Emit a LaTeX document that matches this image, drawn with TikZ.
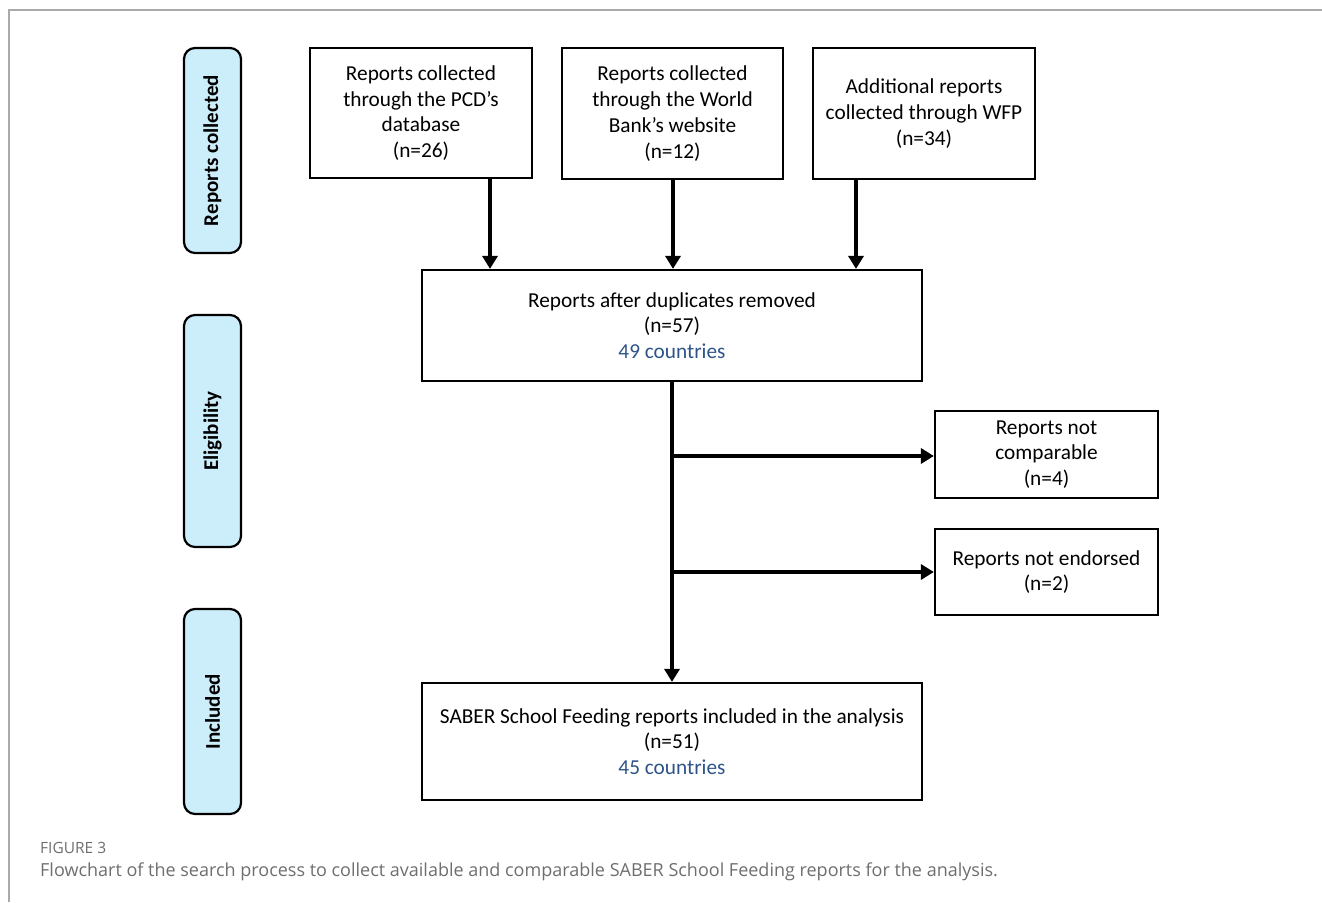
\documentclass[tikz,border=0pt]{standalone}
\usepackage{fontspec}
\setmainfont{Carlito}
\newfontfamily\capfont{Open Sans}
\usetikzlibrary{arrows.meta}
\definecolor{sideblue}{RGB}{204,238,251}
\definecolor{cntblue}{RGB}{46,84,138}
\definecolor{framegrey}{RGB}{170,170,170}
\definecolor{capgrey}{RGB}{110,110,110}
\begin{document}
\begin{tikzpicture}[x=1pt,y=-1pt,
  box/.style={draw=black,line width=2.2pt,align=center,inner sep=0pt,font=\fontsize{21.3}{25.8}\selectfont},
  side/.style={draw=black,line width=2.2pt,fill=sideblue,rounded corners=11pt,inner sep=0pt,minimum width=57pt},
  sidetxt/.style={rotate=90,font=\fontsize{21}{25}\selectfont\bfseries},
  arr/.style={line width=4.8pt,-{Triangle[width=15pt,length=13pt]}}]
\useasboundingbox (0,0) rectangle (1322,902);
% frame
\draw[framegrey,line width=2pt] (9,902) -- (9,10) -- (1322,10);
% side labels
\node[side,minimum height=205pt] (sc) at (212.5,150.5) {};
\node[sidetxt] (sct) at (sc.center) {Reports collected};
\node[side,minimum height=232pt] (se) at (212.5,431) {};
\node[sidetxt] (set) at (se.center) {Eligibility};
\node[side,minimum height=205pt] (si) at (212.5,711.5) {};
\node[sidetxt] (sit) at (si.center) {Included};
% top boxes
\node[box,minimum width=222pt,minimum height=130pt] (b1) at (421,113) {Reports collected\\through the PCD’s\\database\\(n=26)};
\node[box,minimum width=221pt,minimum height=131pt] (b2) at (672.5,113.5) {Reports collected\\through the World\\Bank’s website\\(n=12)};
\node[box,minimum width=222pt,minimum height=131pt] (b3) at (924,113.5) {Additional reports\\collected through WFP\\(n=34)};
% middle box
\node[box,minimum width=500pt,minimum height=111pt] (mid) at (672,325.5) {Reports after duplicates removed\\(n=57)\\\textcolor{cntblue}{49 countries}};
% right boxes
\node[box,minimum width=223pt,minimum height=87pt] (nc) at (1046.5,454.5) {Reports not\\comparable\\(n=4)};
\node[box,minimum width=223pt,minimum height=86pt] (ne) at (1046.5,572) {Reports not endorsed\\(n=2)};
% bottom box
\node[box,minimum width=500pt,minimum height=117pt] (fin) at (672,741.5) {SABER School Feeding reports included in the analysis\\(n=51)\\\textcolor{cntblue}{45 countries}};
% arrows
\coordinate (x1) at (490,0);
\coordinate (x2) at (673,0);
\coordinate (x3) at (856,0);
\coordinate (xt) at (672,0);
\draw[arr] (b1.south -| x1) -- (x1 |- mid.north);
\draw[arr] (b2.south -| x2) -- (x2 |- mid.north);
\draw[arr] (b3.south -| x3) -- (x3 |- mid.north);
\draw[arr] (mid.south -| xt) -- (xt |- fin.north);
\coordinate (j1) at (672,456);
\coordinate (j2) at (672,572);
\draw[arr] (j1) -- (j1 -| nc.west);
\draw[arr] (j2) -- (j2 -| ne.west);
% caption
\node[anchor=base west,inner sep=0pt,text=capgrey,font=\capfont\fontsize{15.5}{17}\selectfont] (fig) at (40,853) {FIGURE 3};
\node[anchor=base west,inner sep=0pt,text=capgrey,font=\capfont\fontsize{18}{20}\selectfont] (cap) at (40,876) {Flowchart of the search process to collect available and comparable SABER School Feeding reports for the analysis.};
\end{tikzpicture}
\end{document}
